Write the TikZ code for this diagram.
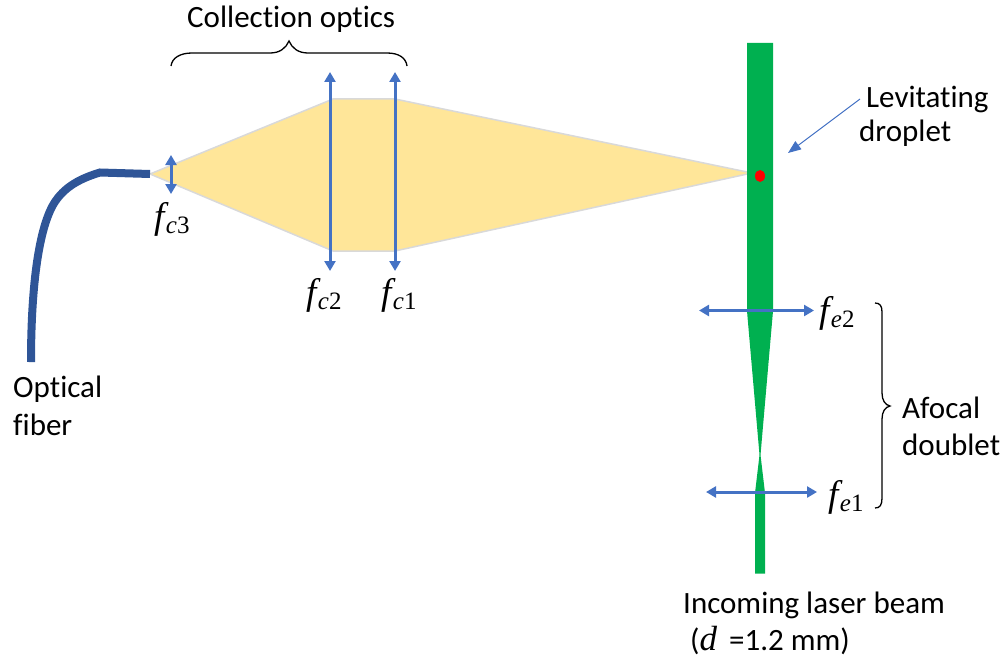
\documentclass[tikz,border=0pt]{standalone}
\usepackage{fontspec}
\setmainfont{Carlito}[Ligatures=NoCommon]
\newfontfamily\symfont{Liberation Serif}
\usetikzlibrary{arrows.meta,shapes.geometric}
\definecolor{lensblue}{HTML}{4472C4}
\definecolor{fiberblue}{HTML}{2F5597}
\definecolor{conefill}{HTML}{FFE699}
\definecolor{coneedge}{HTML}{D9D9D9}
\definecolor{beamgreen}{HTML}{00B050}
\newcommand{\focal}[2]{{\symfont\fontsize{37}{40}\selectfont\itshape f\kern1.5pt\raisebox{-5pt}{\fontsize{25}{28}\selectfont #1\upshape #2}}}
\tikzset{
  x=1pt,y=-1pt,
  lens/.style={line width=3pt,lensblue,{Triangle[length=10pt,width=11pt]}-{Triangle[length=10pt,width=11pt]}},
  leader/.style={line width=1pt,lensblue,-{Triangle[length=13pt,width=10pt]}},
  brace/.style={line width=1.3pt,black},
  label/.style={inner sep=0pt,anchor=base west,font=\fontsize{31}{34}\selectfont},
  sym/.style={inner sep=0pt,anchor=base west}
}
\begin{document}
\begin{tikzpicture}
\useasboundingbox (0,0) rectangle (1003,658);
% collected light cone
\fill[conefill,draw=coneedge,line width=1.5pt] (150,174) -- (333,99) -- (395,99) -- (752,173) -- (395,251) -- (333,251) -- cycle;
% laser beam
\fill[beamgreen] (747,43) -- (773,43) -- (773,311) -- (760.5,455) -- (765,493) -- (765,573.5) -- (755,573.5) -- (755,493) -- (759.5,455) -- (747,311) -- cycle;
% droplet
\node[ellipse,fill=red,minimum width=10pt,minimum height=12pt,inner sep=0pt] (droplet) at (760,176) {};
% fiber
\draw[fiberblue,line width=8pt] (31,362) .. controls (31,290) and (38,232) .. (53,205) .. controls (64,186) and (82,178) .. (100,172.5) -- (150,174);
% lens arrows
\coordinate (c3t) at (171,155); \coordinate (c3b) at (171,194);
\coordinate (c2t) at (330,72);  \coordinate (c2b) at (330,271);
\coordinate (c1t) at (395,72);  \coordinate (c1b) at (395,271);
\coordinate (e2l) at (699,310.5); \coordinate (e2r) at (814,310.5);
\coordinate (e1l) at (706,492); \coordinate (e1r) at (817,492);
\draw[lens] (c3t) -- (c3b);
\draw[lens] (c2t) -- (c2b);
\draw[lens] (c1t) -- (c1b);
\draw[lens] (e2l) -- (e2r);
\draw[lens] (e1l) -- (e1r);
% braces
\draw[brace] (171,66) .. controls (172,58) and (180,53) .. (192,53) -- (270,53) .. controls (280,53) and (286,48) .. (289,41) .. controls (292,48) and (298,53) .. (308,53) -- (387,53) .. controls (399,53) and (406,58) .. (407,66);
\draw[brace] (875,303) .. controls (880,303) and (882,306) .. (882,312) -- (882,393) .. controls (882,400) and (885,405) .. (890,406) .. controls (885,407) and (882,412) .. (882,419) -- (882,498) .. controls (882,505) and (880,508) .. (875,508);
% labels
\node[label] (collect) at (187,28) {Collection optics};
\node[label] (lev) at (866,107) {Levitating};
\node[label] (drop) at (859,142) {droplet};
\node[label] (opt) at (13,397) {Optical};
\node[label] (fib) at (13,435) {fiber};
\node[label] (afo) at (902,418) {Afocal};
\node[label] (dou) at (902,455) {doublet};
\node[label] (inc) at (683,613) {Incoming laser beam};
\node[label] (dia) at (690,650) {({\symfont\fontsize{35}{38}\selectfont\itshape d}\kern12pt =1.2 mm)};
\node[sym] (fc3) at (154,228) {\focal{c}{3}};
\node[sym] (fc2) at (306,304) {\focal{c}{2}};
\node[sym] (fc1) at (381,304) {\focal{c}{1}};
\node[sym] (fe2) at (819,322) {\focal{e}{2}};
\node[sym] (fe1) at (828,506) {\focal{e}{1}};
% leader
\coordinate (leadend) at (788,153);
\coordinate (leadstart) at (860,99);
\draw[leader] (leadstart) -- (leadend);
\end{tikzpicture}
\end{document}
